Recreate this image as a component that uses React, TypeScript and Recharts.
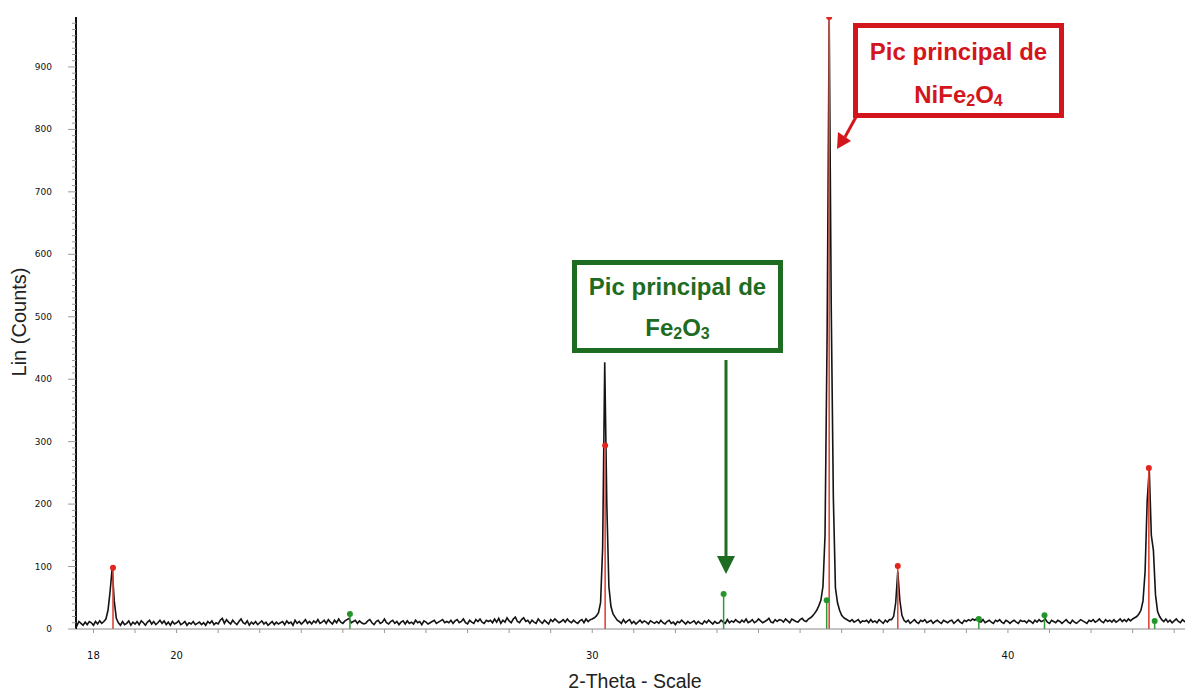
import { ComposedChart, Line, Scatter, XAxis, YAxis, ReferenceLine } from 'recharts';

// diffractogram sampled every 0.05° starting at 17.55°
const SCAN_START = 17.55;
const SCAN_STEP = 0.05;
const counts = [
  8, 5, 12, 9, 6, 11, 7, 12, 10, 6, 12, 8, 13, 9, 12, 16, 30, 60, 97, 45,
  17, 10, 6, 12, 7, 9, 13, 6, 11, 8, 12, 7, 13, 10, 6, 11, 14, 8, 12, 7,
  10, 14, 9, 13, 7, 11, 6, 12, 8, 10, 13, 7, 9, 12, 6, 10, 8, 12, 7, 9,
  11, 7, 10, 6, 12, 9, 13, 7, 10, 8, 14, 17, 9, 15, 11, 8, 14, 10, 7, 12,
  16, 10, 8, 13, 6, 11, 8, 12, 7, 10, 13, 8, 11, 6, 9, 12, 7, 11, 8, 10,
  12, 7, 13, 9, 11, 6, 14, 9, 12, 8, 11, 15, 9, 12, 8, 13, 10, 15, 9, 11,
  14, 9, 15, 11, 8, 14, 10, 16, 11, 9, 13, 15, 17, 10, 12, 14, 9, 13, 10, 8,
  9, 13, 15, 10, 7, 12, 14, 9, 11, 16, 10, 8, 12, 14, 9, 12, 7, 11, 13, 8,
  13, 9, 11, 8, 14, 10, 12, 7, 13, 11, 8, 10, 12, 14, 9, 11, 13, 15, 10, 12,
  10, 14, 9, 13, 15, 10, 12, 16, 10, 8, 14, 11, 9, 15, 12, 16, 11, 9, 14, 12,
  14, 10, 16, 11, 17, 9, 14, 11, 18, 13, 10, 16, 19, 12, 10, 15, 18, 12, 14, 9,
  14, 11, 9, 16, 12, 9, 14, 11, 8, 15, 12, 16, 13, 10, 12, 15, 11, 16, 12, 10,
  14, 11, 9, 13, 15, 10, 16, 12, 15, 16, 18, 21, 26, 42, 130, 427, 200, 68, 36, 24,
  19, 14, 12, 9, 15, 10, 13, 15, 9, 12, 8, 11, 14, 10, 13, 11, 8, 13, 11, 9,
  12, 9, 14, 10, 8, 12, 14, 9, 11, 7, 12, 10, 14, 11, 8, 12, 9, 11, 13, 8,
  12, 9, 8, 13, 10, 14, 11, 8, 12, 9, 10, 14, 11, 9, 15, 10, 13, 11, 15, 12,
  10, 14, 11, 16, 10, 12, 15, 10, 12, 16, 13, 10, 12, 14, 17, 11, 10, 15, 12, 15,
  14, 11, 16, 13, 10, 16, 14, 12, 11, 15, 17, 13, 12, 16, 18, 21, 25, 30, 37, 46,
  68, 150, 470, 975, 510, 210, 66, 42, 30, 22, 18, 16, 14, 12, 15, 11, 13, 15, 10, 13,
  12, 14, 10, 15, 11, 13, 10, 15, 12, 9, 14, 11, 15, 15, 20, 42, 92, 46, 22, 14,
  11, 14, 9, 12, 15, 11, 9, 14, 12, 15, 10, 12, 14, 9, 12, 14, 11, 9, 14, 12,
  10, 13, 14, 9, 12, 15, 11, 9, 14, 12, 15, 13, 16, 14, 17, 12, 11, 15, 10, 12,
  14, 11, 9, 14, 12, 15, 11, 9, 14, 12, 9, 12, 14, 11, 9, 14, 12, 13, 10, 14,
  12, 9, 14, 11, 15, 12, 13, 16, 11, 9, 14, 12, 10, 14, 12, 9, 12, 15, 11, 9,
  14, 11, 9, 12, 15, 13, 11, 9, 14, 12, 15, 11, 13, 16, 12, 10, 15, 12, 14, 11,
  15, 11, 13, 16, 12, 15, 12, 16, 13, 16, 18, 20, 24, 30, 45, 92, 205, 256, 150, 126,
  55, 28, 20, 15, 12, 16, 11, 14, 10, 13, 16, 12, 10, 15, 12, 11,
];

// reference patterns (stick positions)
const nife2o4Theta = [18.47, 30.31, 35.7, 37.35, 43.39];
const nife2o4Counts = [98, 294, 980, 101, 258];
const fe2o3Theta = [24.17, 33.16, 35.64, 39.3, 40.88, 43.53];
const fe2o3Counts = [24, 56, 46, 16, 22, 13];

const xTicks = [18, 19, 20, 21, 22, 23, 24, 25, 26, 27, 28, 29, 30, 31, 32, 33, 34, 35, 36, 37, 38, 39, 40, 41, 42, 43, 44];
const xLabels = [18, 20, 30, 40];
const yLabels = [0, 100, 200, 300, 400, 500, 600, 700, 800, 900];
const yTicks = Array.from({ length: 98 }, (_, i) => i * 10);

const RED = '#d3161c';
const GREEN = '#1e6b22';

const scan = counts.map((c, i) => ({ theta: +(SCAN_START + i * SCAN_STEP).toFixed(2), counts: c }));
const nifeDots = nife2o4Theta.map((t, i) => ({ theta: t, counts: nife2o4Counts[i] }));
const feDots = fe2o3Theta.map((t, i) => ({ theta: t, counts: fe2o3Counts[i] }));

const tickFont = '"DejaVu Sans", Verdana, sans-serif';
const labelFont = '"Liberation Sans", Arial, sans-serif';

function YTick(props: any) {
  const { x, y, payload } = props;
  const major = yLabels.includes(payload.value);
  return (
    <g>
      <line x1={x - (major ? 8 : 4)} x2={x} y1={y} y2={y} stroke="#9a9a9a" strokeWidth={1} />
      {major && (
        <text x={x - 24} y={y} dy={3} textAnchor="end" fontSize={9} fontFamily={tickFont} fill="#111">
          {payload.value}
        </text>
      )}
    </g>
  );
}

function XTick(props: any) {
  const { x, y, payload } = props;
  const labelled = xLabels.includes(payload.value);
  return (
    <g>
      <line x1={x} x2={x} y1={y} y2={y + 4} stroke="#9a9a9a" strokeWidth={1} />
      {labelled && (
        <text x={x} y={y} dy={30} textAnchor="middle" fontSize={10} fontFamily={tickFont} fill="#111">
          {payload.value}
        </text>
      )}
    </g>
  );
}

const boxText = {
  position: 'absolute' as const,
  boxSizing: 'border-box' as const,
  background: '#fff',
  textAlign: 'center' as const,
  fontFamily: labelFont,
  fontWeight: 700,
  fontSize: 24,
  whiteSpace: 'nowrap' as const,
};

const sub = { fontSize: 16, verticalAlign: -3 };

export default function App() {
  return (
    <div style={{ position: 'absolute', left: 0, top: 0, width: 1185, height: 692, background: '#fff', overflow: 'hidden' }}>
      <ComposedChart width={1185} height={692} data={scan} margin={{ top: 17, right: 0, left: 0, bottom: 0 }}>
        <XAxis
          type="number"
          dataKey="theta"
          domain={[17.58, 44.26]}
          allowDataOverflow
          ticks={xTicks}
          interval={0}
          tickLine={false}
          tickSize={0}
          tickMargin={0}
          tick={<XTick />}
          axisLine={{ stroke: '#8a8a8a', strokeWidth: 1 }}
          height={63}
        />
        <YAxis
          type="number"
          domain={[0, 980]}
          allowDataOverflow
          ticks={yTicks}
          interval={0}
          width={76}
          tickLine={false}
          tickSize={0}
          tickMargin={0}
          tick={<YTick />}
          axisLine={{ stroke: '#111', strokeWidth: 2 }}
        />
        <Line
          type="linear"
          dataKey="counts"
          stroke="#141414"
          strokeWidth={1.6}
          dot={false}
          isAnimationActive={false}
        />
        {nifeDots.map((d) => (
          <ReferenceLine
            key={`n-${d.theta}`}
            segment={[{ x: d.theta, y: 0 }, { x: d.theta, y: d.counts }]}
            stroke="#e0463a"
            strokeWidth={1.6}
          />
        ))}
        {feDots.map((d) => (
          <ReferenceLine
            key={`f-${d.theta}`}
            segment={[{ x: d.theta, y: 0 }, { x: d.theta, y: d.counts }]}
            stroke="#2f9a35"
            strokeWidth={1.5}
          />
        ))}
        <Scatter
          data={nifeDots}
          dataKey="counts"
          isAnimationActive={false}
          shape={(p: any) => <circle cx={p.cx} cy={p.cy} r={3} fill="#e3241e" />}
        />
        <Scatter
          data={feDots}
          dataKey="counts"
          isAnimationActive={false}
          shape={(p: any) => <circle cx={p.cx} cy={p.cy} r={3} fill="#22962a" />}
        />
      </ComposedChart>

      <svg width={1185} height={692} style={{ position: 'absolute', left: 0, top: 0, pointerEvents: 'none' }}>
        <text x={19} y={322} transform="rotate(-90 19 322)" textAnchor="middle" dominantBaseline="central" fontSize={20} fontFamily={labelFont} fill="#222">
          Lin (Counts)
        </text>
        <text x={635} y={681} textAnchor="middle" dominantBaseline="central" fontSize={19.5} fontFamily={labelFont} fill="#222">
          2-Theta - Scale
        </text>
        <line x1={726} y1={360} x2={726} y2={558} stroke={GREEN} strokeWidth={3} />
        <polygon points="717,556 735,556 726,574" fill={GREEN} />
        <line x1={856} y1={117} x2={845} y2={137} stroke={RED} strokeWidth={3} />
        <polygon points="837,149 851,141 838,132" fill={RED} />
      </svg>

      <div style={{ ...boxText, left: 572, top: 260, width: 211, height: 93, border: `5px solid ${GREEN}`, color: GREEN, lineHeight: '41px', paddingTop: 1 }}>
        <div>Pic principal de</div>
        <div>Fe<span style={sub}>2</span>O<span style={sub}>3</span></div>
      </div>
      <div style={{ ...boxText, left: 853, top: 23, width: 211, height: 95, border: `5px solid ${RED}`, color: RED, lineHeight: '43px', paddingTop: 2 }}>
        <div>Pic principal de</div>
        <div>NiFe<span style={sub}>2</span>O<span style={sub}>4</span></div>
      </div>
    </div>
  );
}
